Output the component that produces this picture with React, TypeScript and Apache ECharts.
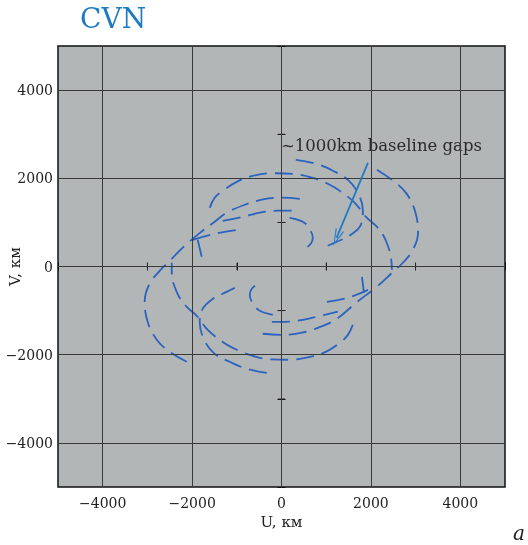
import React, { useEffect, useRef } from "react";
import * as echarts from "echarts";

// Axis ticks (km)
const gridValues = [-4000, -2000, 0, 2000, 4000];
const zeroLineTicks = [-3000, -1000, 1000, 3000];

// UV tracks [U, V] in km
const track1 = [[-2120, -2160], [-2500, -1935], [-2790, -1660], [-2995, -1255], [-3060, -780], [-2950, -390], [-2725, -100], [-2455, 175], [-2165, 470], [-1765, 810], [-1495, 1015], [-1225, 1220], [-820, 1400], [-440, 1515], [-40, 1560], [410, 1535]];
const track1c = [[2135, 2195], [2495, 1945], [2785, 1670], [2985, 1265], [3055, 765], [2940, 380], [2715, 85], [2450, -165], [2155, -440], [1665, -825], [1240, -1185], [815, -1390], [430, -1505], [30, -1550], [-420, -1525]];
const track2 = [[320, 2420], [770, 2330], [1150, 2170], [1485, 1965], [1710, 1670], [1820, 1265], [1775, 945], [1550, 720], [1240, 560], [1035, 470]];
const track2c = [[-330, -2410], [-775, -2320], [-1160, -2160], [-1495, -1980], [-1720, -1685], [-1830, -1255], [-1765, -960], [-1540, -735], [-1225, -575], [-1045, -485]];
const track3 = [[-1605, 1330], [-1495, 1560], [-1315, 1715], [-1000, 1920], [-645, 2055], [-195, 2115], [255, 2100], [700, 2010], [1080, 1855], [1305, 1715], [1640, 1445], [1890, 1125], [2110, 925], [2270, 720], [2380, 470], [2450, 195], [2470, -75]];
const track3c = [[1595, -1320], [1485, -1550], [1305, -1730], [990, -1935], [635, -2050], [185, -2115], [-260, -2105], [-710, -2005], [-1090, -1845], [-1315, -1710], [-1650, -1435], [-1895, -1120], [-2120, -915], [-2280, -710], [-2390, -460], [-2455, -190], [-2455, 85]];
const track4 = [[-1315, 1035], [-865, 1125], [-485, 1220], [-85, 1265], [230, 1265]];
const track4c = [[-215, -1255], [75, -1255], [475, -1210], [860, -1120], [1260, -1025]];
const track5 = [[-1985, 605], [-1495, 740], [-1000, 830]];
const track5c = [[1015, -800], [1485, -710], [1935, -530]];
const track6 = [[-1785, 220], [-1875, 605]];
const track6c = [[1800, -235], [1845, -595]];
const track7 = [[185, 1105], [475, 1015], [610, 880], [700, 650], [655, 515], [520, 400]];
const track7c = [[-195, -1095], [-485, -1005], [-620, -870], [-710, -640], [-665, -505], [-530, -390]];

const tracks = [track1, track1c, track2, track2c, track3, track3c, track4, track4c, track5, track5c, track6, track6c, track7, track7c];

// annotation arrow (from, to) in km
const arrowFrom = [1933, 2351];
const arrowTo = [1232, 651];

const SERIF = "DejaVu Serif";

export default function App() {
  const ref = useRef<HTMLDivElement>(null);
  useEffect(() => {
    const chart = echarts.init(ref.current!, null, { renderer: "svg" });
    const fmt = (v: number) =>
      v % 2000 === 0 ? (v < 0 ? "\u2212" + Math.abs(v) : String(v)) : "";
    const axisCommon: any = {
      type: "value",
      min: -5000,
      max: 5000,
      interval: 1000,
      splitLine: { show: false },
      axisLine: { show: false },
      axisTick: { show: true, inside: true, length: 4, lineStyle: { color: "#111", width: 1 } },
    };
    const labelStyle = { fontFamily: SERIF, fontSize: 14, color: "#222" };
    const trackSeries = tracks.map((t, i) => ({
      type: "line",
      data: t,
      smooth: 0.4,
      symbol: "none",
      showSymbol: false,
      silent: true,
      z: 3,
      lineStyle: { color: "#2b63bf", width: 1.8, type: [18, 8] },
      markLine:
        i === 2
          ? {
              silent: true,
              symbol: ["none", "path://M5,0 L10,20 L8.6,20 L5,4 L1.4,20 L0,20 Z"],
              symbolSize: [9, 17],
              label: { show: false },
              lineStyle: { color: "#1f7cc4", width: 1.8, type: "solid" },
              itemStyle: { color: "#1f7cc4" },
              data: [[{ coord: arrowFrom }, { coord: arrowTo }]],
            }
          : undefined,
    }));
    const zeroTickData = [
      ...zeroLineTicks.map((u) => [u, 0]),
      ...zeroLineTicks.map((v) => [0, v]),
    ];
    const option: any = {
      animation: false,
      title: {
        text: "CVN",
        left: 80,
        top: 4,
        padding: 0,
        textStyle: { fontFamily: SERIF, fontSize: 28, fontWeight: "normal", color: "#1b7bc4" },
      },
      grid: {
        left: 58,
        right: 23,
        top: 46,
        bottom: 58,
        outerBoundsMode: "none",
        containLabel: false,
        show: true,
        backgroundColor: "#b3b6b7",
        borderColor: "#111",
        borderWidth: 1.5,
      },
      xAxis: [
        {
          ...axisCommon,
          position: "bottom",
          axisLabel: { ...labelStyle, formatter: fmt, margin: 9 },
          name: "U, км",
          nameLocation: "middle",
          nameGap: 27,
          nameMoveOverlap: false,
          nameTextStyle: { fontFamily: SERIF, fontSize: 15, color: "#222" },
        },
        { ...axisCommon, position: "top", axisLabel: { show: false } },
      ],
      yAxis: [
        {
          ...axisCommon,
          position: "left",
          axisLabel: { ...labelStyle, formatter: fmt, margin: 5 },
          name: "V, км",
          nameLocation: "middle",
          nameGap: 36,
          nameMoveOverlap: false,
          nameRotate: 90,
          nameTextStyle: { fontFamily: SERIF, fontSize: 15, color: "#222" },
        },
        { ...axisCommon, position: "right", axisLabel: { show: false } },
      ],
      graphic: [
        {
          type: "text",
          left: 281,
          top: 137,
          style: { text: "~1000km baseline gaps", fontFamily: SERIF, fontSize: 16.5, fill: "#2a2a2a" },
        },
        {
          type: "text",
          left: 513,
          top: 523,
          style: { text: "a", fontFamily: SERIF, fontSize: 20, fontStyle: "italic", fill: "#222" },
        },
      ],
      series: [
        {
          type: "scatter",
          data: zeroTickData,
          symbol: "rect",
          symbolSize: (val: number[]) => (val[1] === 0 ? [1, 7] : [7, 1]),
          itemStyle: { color: "#333" },
          silent: true,
          z: 1,
          markLine: {
            silent: true,
            symbol: ["none", "none"],
            label: { show: false },
            lineStyle: { color: "#3a3a3a", width: 1, type: "solid" },
            data: [
              ...gridValues.map((v) => ({ xAxis: v })),
              ...gridValues.map((v) => ({ yAxis: v })),
            ],
          },
        },
        ...trackSeries,
      ],
    };
    chart.setOption(option);
    return () => chart.dispose();
  }, []);
  return (
    <div
      ref={ref}
      style={{ position: "fixed", left: 0, top: 0, width: 528, height: 545 }}
    />
  );
}
